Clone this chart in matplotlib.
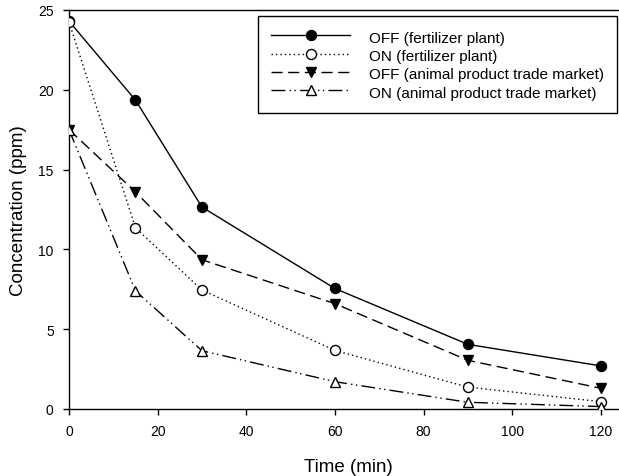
import matplotlib
matplotlib.use("Agg")
import matplotlib.pyplot as plt

plt.rcParams['font.family'] = ['Liberation Sans', 'DejaVu Sans']

time = [0, 15, 30, 60, 90, 120]
off_fert = [24.3, 19.35, 12.65, 7.55, 4.05, 2.7]
on_fert = [24.25, 11.35, 7.45, 3.67, 1.37, 0.46]
off_animal = [17.5, 13.6, 9.35, 6.6, 3.05, 1.3]
on_animal = [17.5, 7.4, 3.65, 1.71, 0.42, 0.15]
labels = ["OFF (fertilizer plant)", "ON (fertilizer plant)",
          "OFF (animal product trade market)", "ON (animal product trade market)"]
xticks = [0, 20, 40, 60, 80, 100, 120]
yticks = [0, 5, 10, 15, 20, 25]

fig = plt.figure(figsize=(6.19, 4.77), dpi=100)
ax = fig.add_axes([0.1115, 0.1405, 0.902, 0.8365])

ms = 7.2
ax.plot(time, off_fert, color='black', lw=1.0, ls='-', marker='o', ms=ms,
        mfc='black', mec='black', label=labels[0], zorder=3)
ax.plot(time, on_fert, color='black', lw=1.0, ls=(0, (1, 2.2)), marker='o', ms=ms,
        mfc='white', mec='black', label=labels[1], zorder=4)
ax.plot(time, off_animal, color='black', lw=1.0, ls=(0, (8, 4)), marker='v', ms=ms,
        mfc='black', mec='black', label=labels[2], zorder=3)
ax.plot(time, on_animal, color='black', lw=1.0, ls=(0, (10, 3, 1, 2.5, 1, 3)), marker='^', ms=ms,
        mfc='white', mec='black', label=labels[3], zorder=4)

ax.set_xlim(0, 126)
ax.set_ylim(0, 25)
ax.set_xticks(xticks)
ax.set_yticks(yticks)
ax.tick_params(direction='out', length=4, width=1, labelsize=10, pad=7)
for s in ax.spines.values():
    s.set_linewidth(1.0)

ax.set_xlabel("Time (min)", fontsize=13.5, labelpad=14)
ax.set_ylabel("Concentration (ppm)", fontsize=13.5, labelpad=8)

leg = ax.legend(loc='upper left', bbox_to_anchor=(0.3385, 0.985), fontsize=11,
                frameon=True, fancybox=False, edgecolor='black', framealpha=1,
                handlelength=5.2, handleheight=1.2, labelspacing=0.15, handletextpad=1.2,
                borderpad=0.85, borderaxespad=0)
leg.get_frame().set_linewidth(1.0)

fig.savefig("out.png", dpi=100)
